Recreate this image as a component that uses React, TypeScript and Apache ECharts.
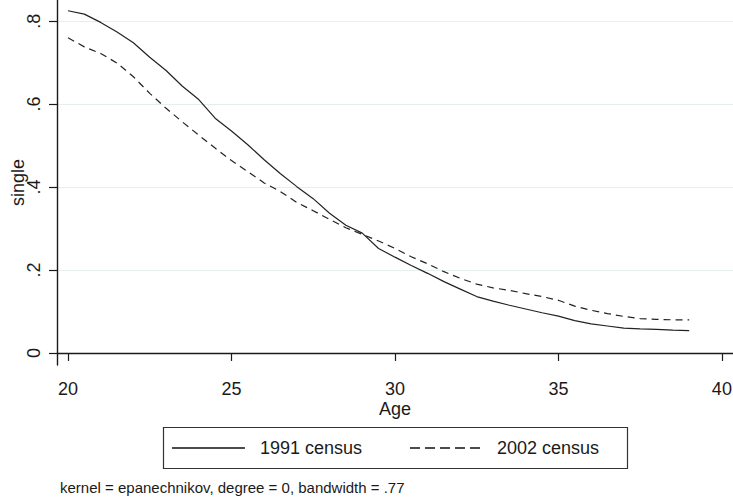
import React, { useEffect, useRef } from "react";
import * as echarts from "echarts";

const ages = [
  20, 20.5, 21, 21.5, 22, 22.5, 23, 23.5, 24, 24.5, 25, 25.5, 26, 26.5, 27, 27.5,
  28, 28.5, 29, 29.5, 30, 30.5, 31, 31.5, 32, 32.5, 33, 33.5, 34, 34.5, 35, 35.5,
  36, 36.5, 37, 37.5, 38, 38.5, 39,
];

const census1991 = [
  0.825, 0.817, 0.797, 0.774, 0.748, 0.713, 0.681, 0.643, 0.611, 0.566, 0.535, 0.502,
  0.466, 0.432, 0.401, 0.372, 0.337, 0.308, 0.289, 0.252, 0.231, 0.211, 0.192, 0.172,
  0.154, 0.136, 0.125, 0.115, 0.106, 0.097, 0.089, 0.078, 0.07, 0.065, 0.06, 0.058,
  0.057, 0.055, 0.054,
];

const census2002 = [
  0.76, 0.738, 0.722, 0.699, 0.666, 0.626, 0.59, 0.557, 0.525, 0.494, 0.464, 0.437,
  0.41, 0.389, 0.363, 0.343, 0.322, 0.302, 0.286, 0.27, 0.252, 0.232, 0.215, 0.196,
  0.18, 0.166, 0.157, 0.151, 0.143, 0.136, 0.127, 0.113, 0.103, 0.095, 0.088, 0.083,
  0.081, 0.08, 0.08,
];

const seriesNames = ["1991 census", "2002 census"];
const xTicks = [20, 25, 30, 35, 40];
const yTicks = [0, 0.2, 0.4, 0.6, 0.8];
const xTitle = "Age";
const yTitle = "single";
const note = "kernel = epanechnikov, degree = 0, bandwidth = .77";

const FONT = "'Liberation Sans', Arial, sans-serif";
const INK = "#1a1a1a";

export default function App() {
  const ref = useRef<HTMLDivElement>(null);

  useEffect(() => {
    if (!ref.current) return;
    const chart = echarts.init(ref.current, null, { renderer: "svg" });
    const legY = 448;
    chart.setOption({
      animation: false,
      backgroundColor: "#ffffff",
      grid: {
        left: 57,
        right: 0,
        top: 0,
        bottom: 133,
        containLabel: false,
        outerBoundsMode: "none",
      },
      xAxis: {
        type: "value",
        min: 19.664,
        max: 40.34,
        name: xTitle,
        nameLocation: "middle",
        nameGap: 35,
        nameMoveOverlap: false,
        nameTextStyle: { fontFamily: FONT, fontSize: 18, color: INK },
        axisLine: { show: true, lineStyle: { color: INK, width: 1.4 } },
        axisTick: {
          show: true,
          length: 8,
          customValues: xTicks,
          lineStyle: { color: INK, width: 1.2 },
        },
        axisLabel: {
          customValues: xTicks,
          margin: 15,
          fontFamily: FONT,
          fontSize: 18,
          color: INK,
        },
        splitLine: { show: false },
      },
      yAxis: {
        type: "value",
        min: -0.029,
        max: 0.851,
        name: yTitle,
        nameLocation: "middle",
        nameGap: 30,
        nameRotate: 90,
        nameMoveOverlap: false,
        nameTextStyle: { fontFamily: FONT, fontSize: 18, color: INK },
        axisLine: { show: true, lineStyle: { color: INK, width: 1.4 } },
        axisTick: {
          show: true,
          length: 8,
          customValues: yTicks,
          lineStyle: { color: INK, width: 1.2 },
        },
        axisLabel: {
          customValues: yTicks,
          rotate: 90,
          margin: 14,
          fontFamily: FONT,
          fontSize: 18,
          color: INK,
          formatter: (v: number) => (v === 0 ? "0" : String(+v.toFixed(1)).replace(/^0\./, ".")),
        },
        splitLine: { show: true, lineStyle: { color: "#e6eef0", width: 1.2 } },
      },
      series: [
        {
          name: seriesNames[0],
          type: "line",
          showSymbol: false,
          data: ages.map((a, i) => [a, census1991[i]]),
          lineStyle: { color: "#222", width: 1.2 },
        },
        {
          name: seriesNames[1],
          type: "line",
          showSymbol: false,
          data: ages.map((a, i) => [a, census2002[i]]),
          lineStyle: { color: "#222", width: 1.2, type: [7, 5] },
        },
      ],
      graphic: [
        {
          type: "rect",
          shape: { x: 163.5, y: 427.5, width: 464, height: 41 },
          style: { fill: "#fff", stroke: "#333", lineWidth: 1.2 },
        },
        {
          type: "line",
          shape: { x1: 172, y1: legY, x2: 245, y2: legY },
          style: { stroke: "#111", lineWidth: 1.3 },
        },
        {
          type: "text",
          x: 260,
          y: legY,
          style: { text: seriesNames[0], font: `18px ${FONT}`, fill: INK, verticalAlign: "middle" },
        },
        {
          type: "line",
          shape: { x1: 410, y1: legY, x2: 482, y2: legY },
          style: { stroke: "#111", lineWidth: 1.3, lineDash: [10, 5] },
        },
        {
          type: "text",
          x: 497,
          y: legY,
          style: { text: seriesNames[1], font: `18px ${FONT}`, fill: INK, verticalAlign: "middle" },
        },
        {
          type: "text",
          x: 60,
          y: 487,
          style: { text: note, font: `15px ${FONT}`, fill: INK, verticalAlign: "middle" },
        },
      ],
    });
    return () => chart.dispose();
  }, []);

  return <div ref={ref} style={{ width: 733, height: 498, position: "absolute", left: 0, top: 0 }} />;
}
